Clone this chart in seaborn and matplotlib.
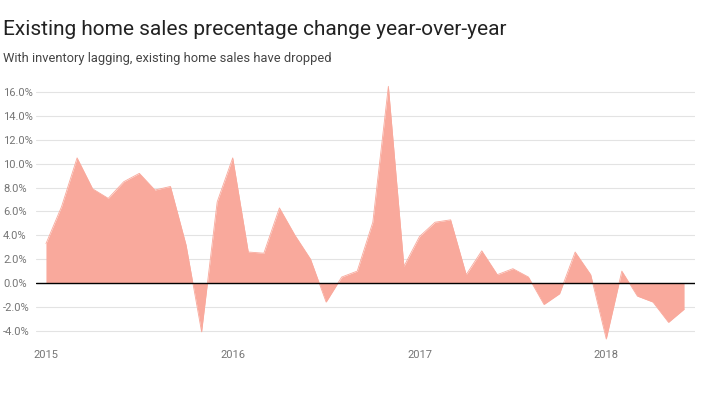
import numpy as np
import pandas as pd
import matplotlib
matplotlib.use("Agg")
import matplotlib.pyplot as plt
import seaborn as sns

# Monthly YoY change in existing home sales, Jan 2015 - Jun 2018 (percent)
months = pd.date_range("2015-01-01", "2018-06-01", freq="MS")
pct_change = [
    3.3, 6.4, 10.5, 7.9, 7.1, 8.5, 9.2, 7.8, 8.1, 3.2, -4.1, 6.8,
    10.5, 2.6, 2.5, 6.3, 4.0, 2.0, -1.6, 0.5, 1.0, 5.1, 16.5, 1.4,
    3.9, 5.1, 5.3, 0.7, 2.7, 0.7, 1.2, 0.5, -1.8, -0.9, 2.6, 0.7,
    -4.7, 1.0, -1.1, -1.6, -3.3, -2.2,
]
year_labels = ["2015", "2016", "2017", "2018"]
y_ticks = [-4, -2, 0, 2, 4, 6, 8, 10, 12, 14, 16]

df = pd.DataFrame({"month": months, "pct": pct_change})
df["idx"] = np.arange(len(df))

sns.set_style("white")
plt.rcParams["font.family"] = ["Roboto", "DejaVu Sans"]

fig = plt.figure(figsize=(7.03, 3.95), dpi=100)
ax = fig.add_axes([0.0512, 0.1327, 0.9374, 0.6638])

fill_color = "#f9a99c"
ax.fill_between(df["idx"], 0, df["pct"], color=fill_color, linewidth=0, zorder=2)
sns.lineplot(data=df, x="idx", y="pct", ax=ax, color=fill_color, linewidth=0.6, zorder=2)

ax.axhline(0, color="black", linewidth=1.0, zorder=3)

ax.set_ylim(-5, 17)
ax.set_xlim(-0.64, 41.7)
ax.set_yticks(y_ticks)
ax.set_yticklabels([f"{v:.1f}%" for v in y_ticks])
ax.set_xticks([0, 12, 24, 36])
ax.set_xticklabels(year_labels)
ax.set_xlabel("")
ax.set_ylabel("")

ax.grid(axis="y", color="#e3e3e3", linewidth=0.8, zorder=0)
ax.grid(axis="x", visible=False)
for s in ax.spines.values():
    s.set_visible(False)

ax.tick_params(axis="y", length=0, pad=23.8, labelsize=8, labelcolor="#757575")
ax.tick_params(axis="x", length=0, pad=5, labelsize=8, labelcolor="#757575")
for lab in ax.get_yticklabels():
    lab.set_horizontalalignment("left")

fig.text(0.004, 0.925, "Existing home sales precentage change year-over-year",
         fontsize=15, color="#222222", va="center", ha="left")
fig.text(0.004, 0.852, "With inventory lagging, existing home sales have dropped",
         fontsize=9.3, color="#444444", va="center", ha="left")

fig.savefig("out.png", dpi=100)
